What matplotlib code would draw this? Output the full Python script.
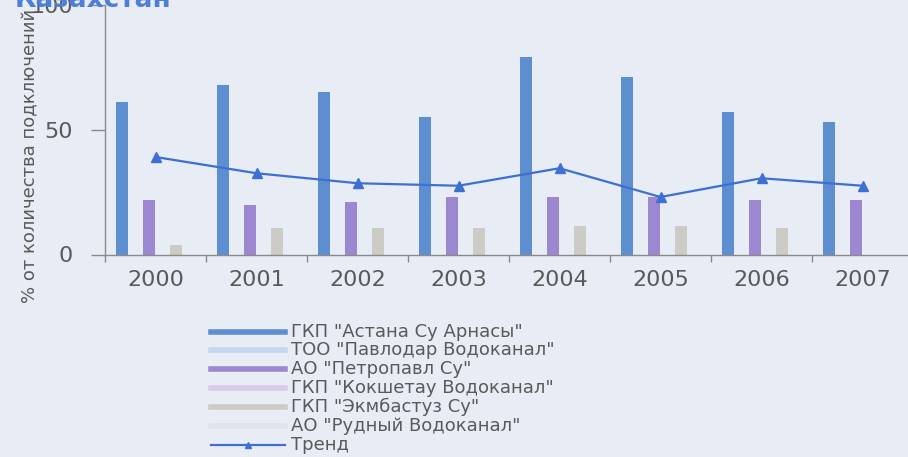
import matplotlib
matplotlib.use("Agg")
import matplotlib.pyplot as plt
from matplotlib.lines import Line2D
import numpy as np

plt.rcParams["font.family"] = ["DejaVu Sans"]

years = ["2000", "2001", "2002", "2003", "2004", "2005", "2006", "2007"]
series_names = [
    'ГКП "Астана Су Арнасы"',
    'ТОО "Павлодар Водоканал"',
    'АО "Петропавл Су"',
    'ГКП "Кокшетау Водоканал"',
    'ГКП "Экмбастуз Су"',
    'АО "Рудный Водоканал"',
]
astana = [61, 68, 65, 55, 79, 71, 57, 53]
pavlodar = [0, 0, 0, 0, 0, 0, 0, 0]
petropavl = [22, 20, 21, 23, 23, 23, 22, 22]
kokshetau = [0, 0, 0, 0, 0, 0, 0, 0]
ekibastuz = [4, 10.5, 10.5, 10.5, 11.5, 11.5, 10.5, 0]
rudny = [0, 0, 0, 0, 0, 0, 0, 0]
trend = [39, 32.5, 28.5, 27.5, 34.5, 23, 30.5, 27.5]
trend_name = "Тренд"

series = [astana, pavlodar, petropavl, kokshetau, ekibastuz, rudny]
colors = ["#5c8ed0", "#c4d7ef", "#9c88d0", "#d9cbe9", "#cccbc5", "#dfe2e8"]
bg = "#e7ecf5"
text_color = "#5a5a5a"
trend_color = "#3d70d2"

fig = plt.figure(figsize=(9.08, 4.57), dpi=100, facecolor=bg)
ax = fig.add_axes([105 / 908, 1 - 254.5 / 457, 803 / 908, 250 / 457])
ax.set_facecolor(bg)

x = np.arange(len(years))
step = 0.134
width = 0.118
for i, (vals, c) in enumerate(zip(series, colors)):
    ax.bar(x + (i - 2.5) * step, vals, width, color=c, zorder=2)

ax.plot(x, trend, color=trend_color, lw=1.6, marker="^", ms=7, zorder=3)

ax.set_xlim(-0.5, -0.5 + 803 / 101)
ax.set_ylim(0, 100)
ax.set_yticks([0, 50, 100])
ax.tick_params(axis="y", length=10, width=1, color="#8a8a8a", pad=13,
               labelsize=16, labelcolor=text_color)
ax.set_xticks(x)
ax.set_xticklabels(years)
ax.set_xticks(np.arange(len(years)) - 0.5, minor=True)
ax.tick_params(axis="x", which="major", length=0, pad=11,
               labelsize=16, labelcolor=text_color)
ax.tick_params(axis="x", which="minor", length=5, width=1, color="#8a8a8a")
for side in ["top", "right"]:
    ax.spines[side].set_visible(False)
for side in ["left", "bottom"]:
    ax.spines[side].set_color("#8a8a8a")
    ax.spines[side].set_linewidth(1)

fig.text(30 / 908, 1 - 156 / 457, "% от количества подключений", rotation=90,
         ha="center", va="center", fontsize=13, color=text_color)
fig.text(15 / 908, 1 - 7 / 457, "Казахстан", ha="left", va="baseline",
         fontsize=19, fontweight="bold", color="#4d7fd6")

# legend drawn by hand so the rows sit tight like a print layout
rows = [332, 350, 369, 388, 407, 426, 445]
x0, x1, xt = 211 / 908, 285 / 908, 291 / 908
for yy, name, c in zip(rows, series_names, colors):
    fy = 1 - yy / 457
    fig.add_artist(Line2D([x0, x1], [fy, fy], color=c, lw=4,
                          transform=fig.transFigure))
    fig.text(xt, fy, name, ha="left", va="center", fontsize=13,
             color=text_color)
fy = 1 - rows[-1] / 457
fig.add_artist(Line2D([x0, x1], [fy, fy], color=trend_color, lw=1.6,
                      transform=fig.transFigure))
fig.add_artist(Line2D([(x0 + x1) / 2], [fy], color=trend_color, marker="^",
                      ms=5, transform=fig.transFigure))
fig.text(xt, fy, trend_name, ha="left", va="center", fontsize=13,
         color=text_color)

fig.savefig("out.png", dpi=100, facecolor=bg)
